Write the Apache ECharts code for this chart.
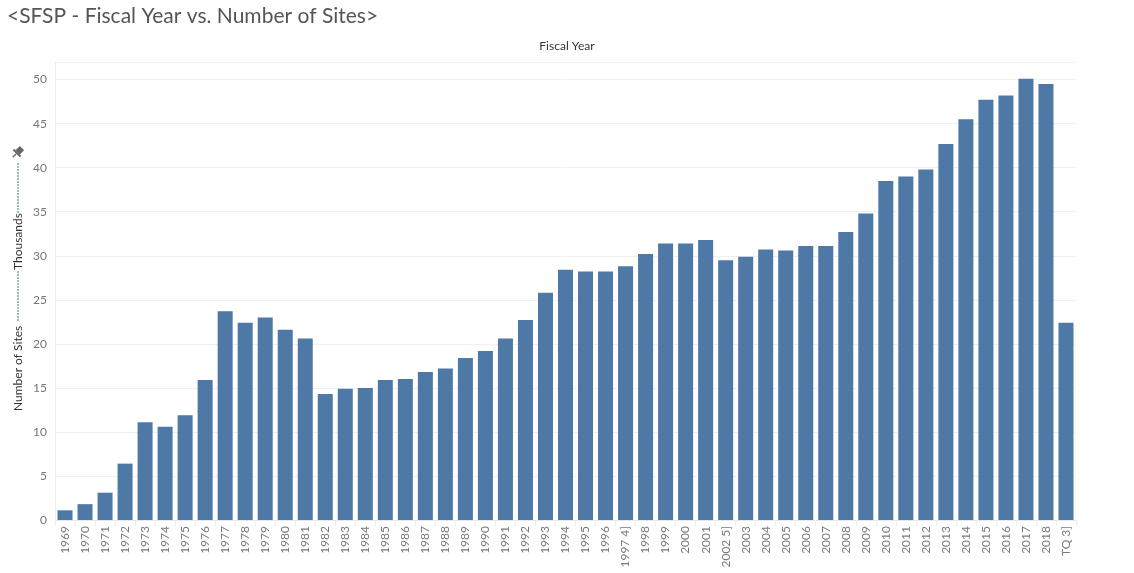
<!DOCTYPE html>
<html lang="en">
<head>
    <meta charset="UTF-8">
    <title>SFSP - Fiscal Year vs. Number of Sites</title>
    <style>
        html, body { margin: 0; padding: 0; background: #fff; }
        #chart { width: 1134px; height: 573px; }
    </style>
</head>
<body>
    <div id="chart"></div>
<script src="https://cdn.jsdelivr.net/npm/echarts@6/dist/echarts.min.js"></script>
<script>
    // fiscal years (Tableau footnote marks kept as in the source)
    let years = ['1969', '1970', '1971', '1972', '1973', '1974', '1975', '1976', '1977', '1978',
        '1979', '1980', '1981', '1982', '1983', '1984', '1985', '1986', '1987', '1988',
        '1989', '1990', '1991', '1992', '1993', '1994', '1995', '1996', '1997 4]', '1998',
        '1999', '2000', '2001', '2002 5]', '2003', '2004', '2005', '2006', '2007', '2008',
        '2009', '2010', '2011', '2012', '2013', '2014', '2015', '2016', '2017', '2018', 'TQ 3]'];

    // number of sites, in thousands
    let sites = [1.1, 1.8, 3.1, 6.4, 11.1, 10.6, 11.9, 15.9, 23.7, 22.4,
        23.0, 21.6, 20.6, 14.3, 14.9, 15.0, 15.9, 16.0, 16.8, 17.2,
        18.4, 19.2, 20.6, 22.7, 25.8, 28.4, 28.2, 28.2, 28.8, 30.2,
        31.4, 31.4, 31.8, 29.5, 29.9, 30.7, 30.6, 31.1, 31.1, 32.7,
        34.8, 38.5, 39.0, 39.8, 42.7, 45.5, 47.7, 48.2, 50.1, 49.5, 22.4];

    let yTicks = { min: 0, max: 52, interval: 5 };

    let font = 'Lato, "Open Sans", sans-serif';
    let chart = echarts.init(document.getElementById('chart'));

    chart.setOption({
        animation: false,
        title: {
            text: '<SFSP - Fiscal Year vs. Number of Sites>',
            left: 2,
            top: 1,
            textStyle: { fontFamily: font, fontSize: 21, fontWeight: 'normal', color: '#555' }
        },
        graphic: [
            {
                type: 'text', left: 'center', top: 40,
                style: { text: 'Fiscal Year', fontFamily: font, fontSize: 12, fill: '#333' }
            }
        ],
        grid: { left: 55, right: 58, top: 62, bottom: 53 },
        xAxis: {
            type: 'category',
            data: years,
            axisLine: { lineStyle: { color: '#e8e8e8' } },
            axisTick: { show: true, length: 6, lineStyle: { color: '#eeeeee' } },
            axisLabel: {
                interval: 0, rotate: 90, margin: 6,
                fontFamily: font, fontSize: 12, color: '#7a7a7a'
            }
        },
        yAxis: {
            type: 'value',
            min: yTicks.min, max: yTicks.max, interval: yTicks.interval,
            axisLine: { show: true, lineStyle: { color: '#eeeeee' } },
            axisTick: { show: false },
            splitLine: { lineStyle: { color: '#f0f0f0' } },
            axisLabel: { fontFamily: font, fontSize: 12, color: '#777', margin: 8, showMaxLabel: false }
        },
        series: [{
            type: 'bar',
            data: sites,
            barCategoryGap: '25%',
            itemStyle: { color: '#4e79a7' }
        }]
    });

    // rotated y-axis title: "Number of Sites ---- Thousands ----" + pin
    let zr = chart.getZr();
    let g = new echarts.graphic.Group({ x: 18, y: 411, rotation: Math.PI / 2 });
    g.add(new echarts.graphic.Text({
        style: { text: 'Number of Sites', fontFamily: font, fontSize: 12, fill: '#333', align: 'left', verticalAlign: 'middle' }
    }));
    g.add(new echarts.graphic.Line({
        shape: { x1: 90, y1: 0, x2: 140, y2: 0 },
        style: { stroke: '#2e8b57', lineWidth: 1, lineDash: [2, 1] }
    }));
    g.add(new echarts.graphic.Text({
        x: 141,
        style: { text: 'Thousands', fontFamily: font, fontSize: 12, fill: '#333', align: 'left', verticalAlign: 'middle' }
    }));
    g.add(new echarts.graphic.Line({
        shape: { x1: 198, y1: 0, x2: 248, y2: 0 },
        style: { stroke: '#2e8b57', lineWidth: 1, lineDash: [2, 1] }
    }));
    zr.add(g);

    // small pushpin icon above the axis title
    let pin = new echarts.graphic.Group({ x: 17, y: 153, rotation: -Math.PI / 4 });
    pin.add(new echarts.graphic.Rect({ shape: { x: -3, y: -7, width: 6, height: 6 }, style: { fill: '#666' } }));
    pin.add(new echarts.graphic.Rect({ shape: { x: -5, y: -1, width: 10, height: 2 }, style: { fill: '#666' } }));
    pin.add(new echarts.graphic.Line({ shape: { x1: 0, y1: 1, x2: 0, y2: 6 }, style: { stroke: '#666', lineWidth: 1.2 } }));
    zr.add(pin);
</script>
</body>
</html>
